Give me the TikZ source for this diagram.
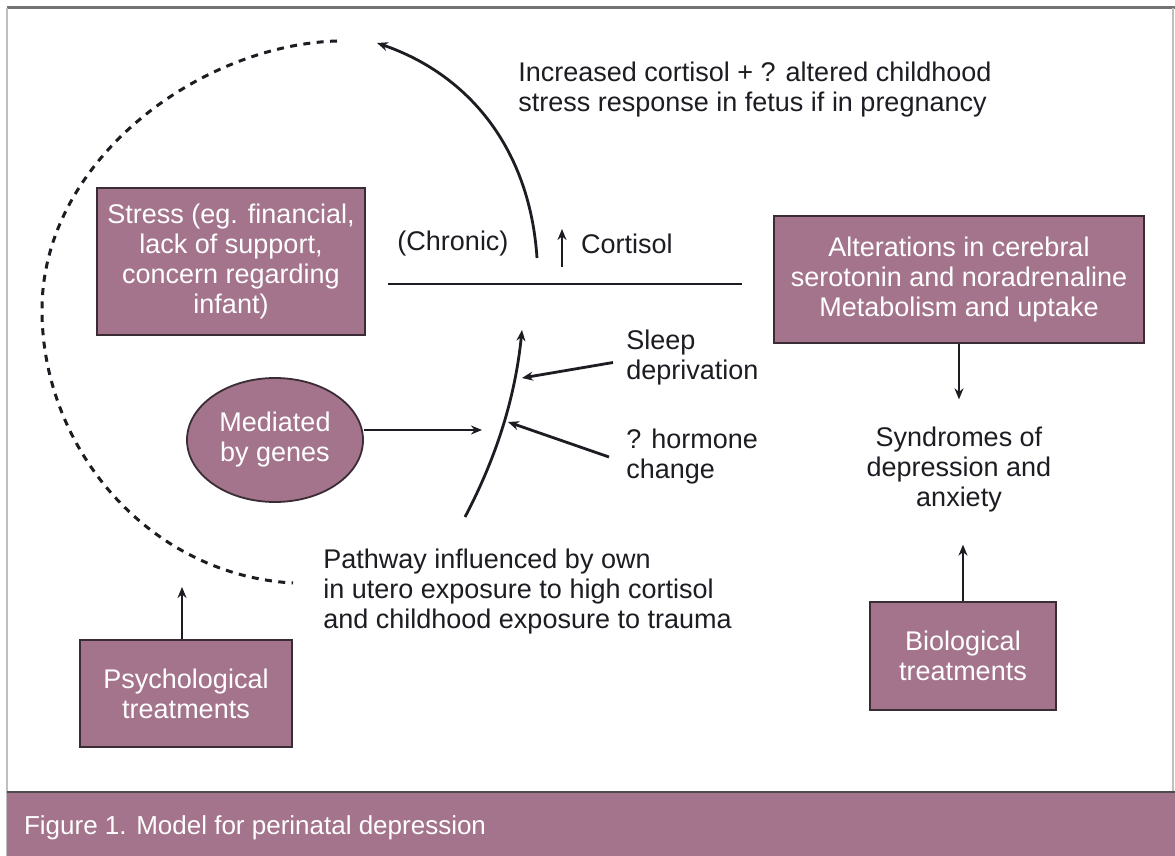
\documentclass[tikz,border=0pt]{standalone}
\usepackage{fontspec}
\setmainfont{Liberation Sans}
\usetikzlibrary{arrows.meta,positioning,shapes.geometric}
\definecolor{Mauve}{RGB}{164,116,140}
\definecolor{MauveEdge}{RGB}{58,44,52}
\definecolor{Ink}{RGB}{28,28,34}

\begin{document}
\begin{tikzpicture} [x=0.5pt,y=-0.5pt,
       >={Stealth[length=5.5pt,width=4.5pt]}, Ink, text=Ink, line width=1.4pt,
       every node/.style={font=\fontsize{13.5}{15}\selectfont},
       mauvebox/.style 2 args = {rectangle, minimum width=#1, minimum height=#2,
                                 line width=0.9pt, draw=MauveEdge, fill=Mauve,
                                 text=white, align=center, inner sep=2pt},
       mauveoval/.style 2 args = {ellipse, minimum width=#1, minimum height=#2,
                                 line width=0.9pt, draw=MauveEdge, fill=Mauve,
                                 text=white, align=center, inner sep=0pt},
       remark/.style = {align=left, inner sep=0pt}]
	%% Frame and caption bar
	\useasboundingbox (0,0) rectangle (1175,856);
	\fill[white] (0,0) rectangle (1175,856);
	\draw[black!55,line width=1.5pt] (7,8) -- (1175,8);
	\draw[black!25,line width=0.6pt] (7,8) -- (7,856);
	\draw[black!25,line width=0.6pt] (1173,8) -- (1173,792);
	\fill[Mauve] (7,792) rectangle (1175,856);
	\draw[black!70,line width=1pt] (7,792) -- (1175,792);
	\node [anchor=west,text=white,font=\fontsize{13}{15}\selectfont] (caption) at (16,828) {Figure 1. Model for perinatal depression};

	%% Boxes
	\node [mauvebox={134pt}{73.5pt}] (stress) at (231,261.5) {Stress (eg. financial,\\lack of support,\\concern regarding\\infant)};
	\node [mauvebox={185pt}{63.5pt}] (alter) at (959,279.5) {Alterations in cerebral\\serotonin and noradrenaline\\Metabolism and uptake};
	\node [mauveoval={88pt}{62pt}] (genes) at (275,440) {Mediated\\by genes};
	\node [mauvebox={106pt}{53.5pt}] (psych) at (186,693.5) {Psychological\\treatments};
	\node [mauvebox={93pt}{54pt}] (bio) at (963,656) {Biological\\treatments};

	%% Free texts
	\node [align=center] (syndromes) at (959,470) {Syndromes of\\depression and\\anxiety};
	\node [remark,anchor=west] (increased) at (517,90) {Increased cortisol + ? altered childhood\\stress response in fetus if in pregnancy};
	\node (chronic) at (453,244) {(Chronic)};
	\node [anchor=west] (cortisol) at (573,244) {Cortisol};
	\node [remark,anchor=west] (sleep) at (625,357.5) {Sleep\\deprivation};
	\node [remark,anchor=west] (hormone) at (625,457) {? hormone\\change};
	\node [remark,anchor=west] (pathway) at (322,592) {Pathway influenced by own\\in utero exposure to high cortisol\\and childhood exposure to trauma};

	%% Free ends
	\coordinate (barleft) at (388,284);
	\coordinate (barright) at (742,284);
	\coordinate (arcfoot) at (537,258);
	\coordinate (archead) at (377,43);
	\coordinate (upfoot) at (562,267);
	\coordinate (uphead) at (562,229);
	\coordinate (loopstart) at (337,41);
	\coordinate (loopend) at (293,583);
	\coordinate (pathfoot) at (465,517);
	\coordinate (pathhead) at (522,330);
	\coordinate (sleepjoin) at (522,378);
	\coordinate (hormjoin) at (508,422);
	\coordinate (genejoin) at (482,430);
	\coordinate (psychtip) at (182,587);

	%% Paths
	\draw (barleft) -- (barright);
	\draw[->] (arcfoot) .. controls (530,150) and (470,75) .. (archead);
	\draw[->] (upfoot) -- (uphead);
	\draw[line width=1.5pt,dash pattern=on 3.5pt off 3.2pt] (loopstart) .. controls (200,45) and (42,160) .. (42,310)
	          .. controls (42,450) and (150,575) .. (loopend);
	\draw[->] (pathfoot) .. controls (495,460) and (515,400) .. (pathhead);
	\draw[->] ([xshift=-6pt,yshift=-2.5pt]sleep.west) -- (sleepjoin);
	\draw[->] ([xshift=-8pt]hormone.west) -- (hormjoin);
	\draw[->] (genes.east |- genejoin) -- (genejoin);
	\draw[->] (alter.south) -- ([yshift=10pt]syndromes.north);
	\draw[->] (bio.north) -- ([yshift=-12pt]bio.north |- syndromes.south);
	\draw[->] (psych.north -| psychtip) -- (psychtip);
\end{tikzpicture}
\end{document}
